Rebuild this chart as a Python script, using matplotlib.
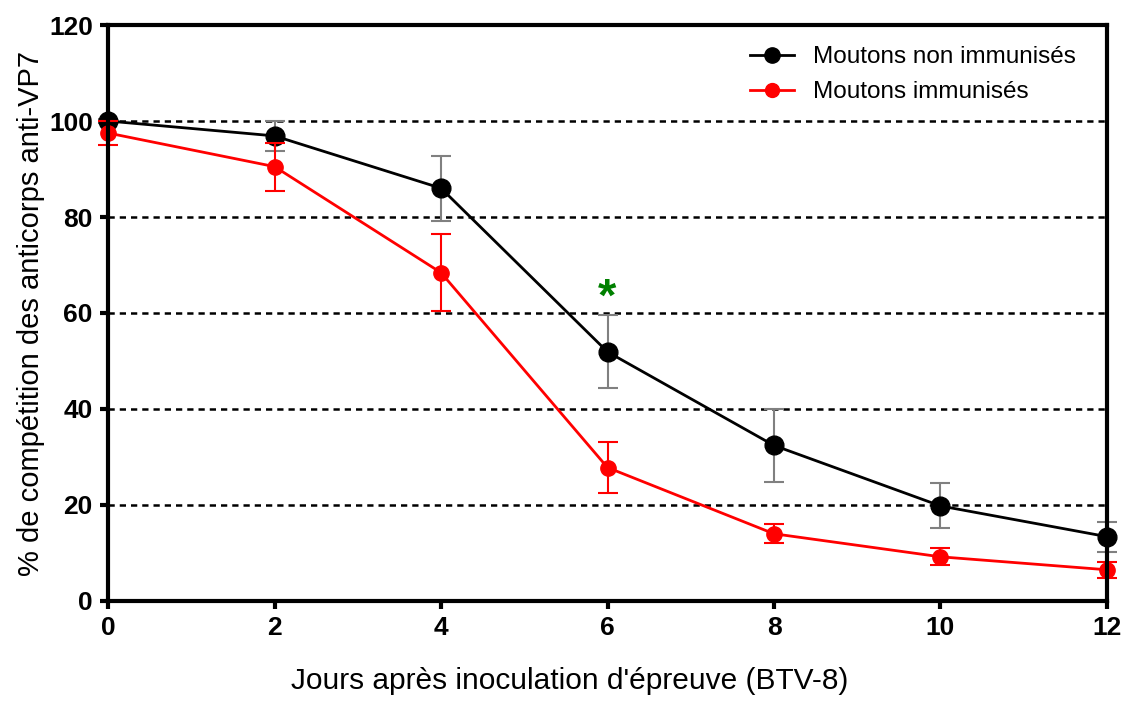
import numpy as np
import matplotlib
matplotlib.use("Agg")
import matplotlib.pyplot as plt
from matplotlib.lines import Line2D

plt.rcParams['font.family'] = ['Liberation Sans', 'DejaVu Sans']

# days after challenge
jours = [0, 2, 4, 6, 8, 10, 12]

# non immunised sheep
non_imm = [100.0, 96.9, 86.0, 51.9, 32.4, 19.8, 13.4]
non_imm_err = [0.5, 3.2, 6.8, 7.6, 7.7, 4.7, 3.1]

# immunised sheep
imm = [97.5, 90.5, 68.4, 27.8, 14.0, 9.2, 6.5]
imm_err = [2.4, 5.0, 8.0, 5.4, 2.0, 1.8, 1.7]

yticks = [0, 20, 40, 60, 80, 100, 120]
grid_levels = [20, 40, 60, 80, 100]
star_day, star_y = 6, 63

fig = plt.figure(figsize=(11.29, 7.01), dpi=100)
ax = fig.add_axes([0.0957, 0.1427, 0.8848, 0.8216])

for g in grid_levels:
    ax.axhline(g, color='black', lw=1.8, ls=(0, (2.5, 2)), zorder=1)

ax.errorbar(jours, non_imm, yerr=non_imm_err, color='black', ecolor='#808080',
            elinewidth=1.5, capsize=7, capthick=1.5, lw=2, marker='o', ms=13.5,
            zorder=3, clip_on=False)
ax.errorbar(jours, imm, yerr=imm_err, color='#ff0000', ecolor='#ff0000',
            elinewidth=1.5, capsize=7, capthick=1.5, lw=2, marker='o', ms=11,
            zorder=4, clip_on=False)

ax.text(star_day, star_y, '*', color='green', fontsize=34, fontweight='bold',
        ha='center', va='center')

ax.set_xlim(0, 12)
ax.set_ylim(0, 120)
ax.set_xticks(jours)
ax.set_yticks(yticks)
for s in ax.spines.values():
    s.set_linewidth(3)
    s.set_zorder(5)
ax.tick_params(direction='out', length=6, width=3, labelsize=19, pad=5)
for lab in ax.get_xticklabels() + ax.get_yticklabels():
    lab.set_fontweight('bold')

ax.set_xlabel("Jours après inoculation d'épreuve (BTV-8)", fontsize=21.5)
ax.xaxis.set_label_coords(0.4625, -0.115)
ax.set_ylabel("% de compétition des anticorps anti-VP7", fontsize=21, labelpad=3)

handles = [Line2D([], [], color='black', lw=2, marker='o', ms=11),
           Line2D([], [], color='#ff0000', lw=2, marker='o', ms=10)]
ax.legend(handles, ['Moutons non immunisés', 'Moutons immunisés'],
          loc='upper right', bbox_to_anchor=(0.986, 0.993), frameon=False,
          fontsize=17.5, handlelength=1.8, handletextpad=0.8,
          borderaxespad=0.3, labelspacing=0.55)

fig.savefig('out.png', dpi=100)
